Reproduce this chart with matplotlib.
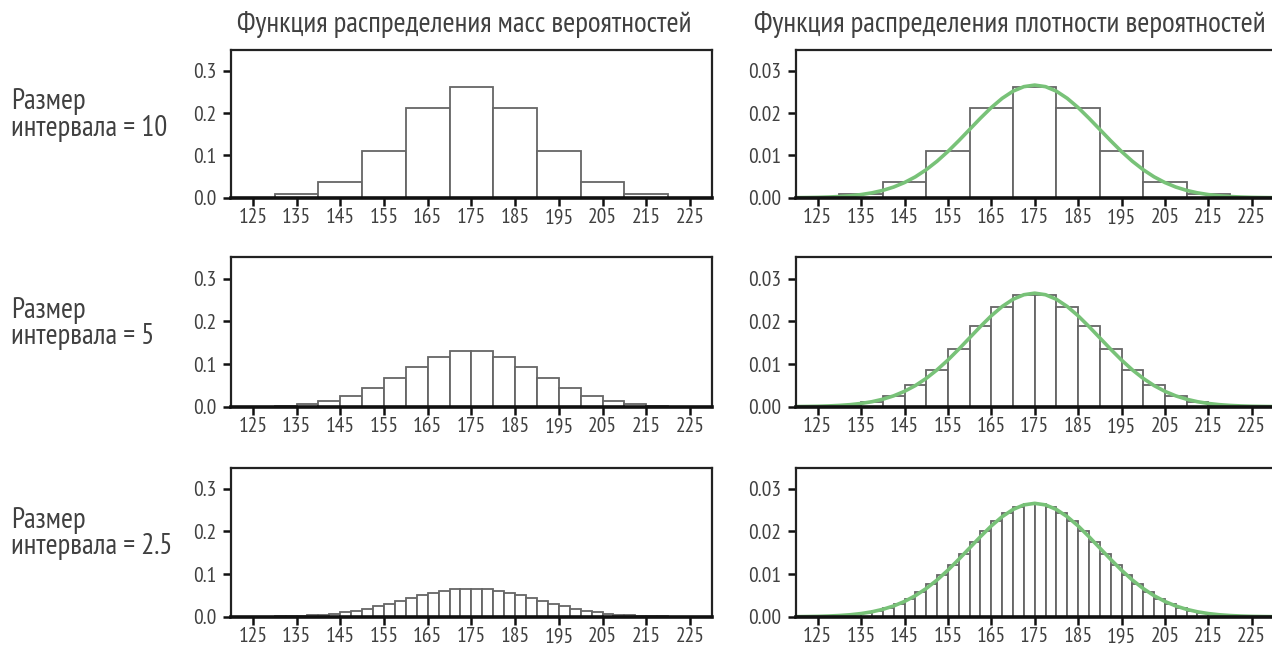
import matplotlib
matplotlib.use("Agg")
import matplotlib.pyplot as plt
from matplotlib import font_manager as fm
import numpy as np

# pick the narrowest available sans family
_names = {f.name for f in fm.fontManager.ttflist}
_cond = [f for f in fm.fontManager.ttflist
         if f.name == 'DejaVu Sans' and 'Condensed' in f.fname and 'Bold' not in f.fname
         and 'Oblique' not in f.fname]
if 'PT Sans Narrow' in _names:
    FAMILY, STRETCH, SCALE = 'PT Sans Narrow', 'normal', 1.25
elif 'Liberation Sans Narrow' in _names:
    FAMILY, STRETCH, SCALE = 'Liberation Sans Narrow', 'normal', 1.25
elif 'Roboto Condensed' in _names:
    FAMILY, STRETCH, SCALE = 'Roboto Condensed', 'normal', 1.2
elif _cond:
    FAMILY, STRETCH, SCALE = 'DejaVu Sans', 'condensed', 1.1
else:
    FAMILY, STRETCH, SCALE = 'Roboto', 'normal', 1.08
plt.rcParams['font.family'] = [FAMILY, 'DejaVu Sans']
plt.rcParams['font.stretch'] = STRETCH

# ---- data ----
row_labels = ["Размер\nинтервала = 10", "Размер\nинтервала = 5", "Размер\nинтервала = 2.5"]
titles = ["Функция распределения масс вероятностей", "Функция распределения плотности вероятностей"]
xticks = [125, 135, 145, 155, 165, 175, 185, 195, 205, 215, 225]

# bin width 10
edges10 = [130, 140, 150, 160, 170, 180, 190, 200, 210, 220]
pmf10 = [0.0085, 0.038, 0.111, 0.211, 0.261, 0.211, 0.111, 0.038, 0.0085]
pdf10 = [0.00085, 0.0038, 0.0111, 0.0211, 0.0261, 0.0211, 0.0111, 0.0038, 0.00085]

# bin width 5
edges5 = [130, 135, 140, 145, 150, 155, 160, 165, 170, 175, 180, 185, 190, 195,
          200, 205, 210, 215, 220]
pmf5 = [0.0025, 0.006, 0.013, 0.025, 0.0434, 0.0675, 0.0938, 0.117, 0.1306,
        0.1306, 0.117, 0.0938, 0.0675, 0.0434, 0.025, 0.013, 0.006, 0.0025]
pdf5 = [0.0005, 0.0012, 0.0026, 0.005, 0.0087, 0.0135, 0.0188, 0.0234, 0.0261,
        0.0261, 0.0234, 0.0188, 0.0135, 0.0087, 0.005, 0.0026, 0.0012, 0.0005]

# bin width 2.5
edges25 = [127.5, 130, 132.5, 135, 137.5, 140, 142.5, 145, 147.5, 150, 152.5, 155,
           157.5, 160, 162.5, 165, 167.5, 170, 172.5, 175, 177.5, 180, 182.5, 185,
           187.5, 190, 192.5, 195, 197.5, 200, 202.5, 205, 207.5, 210, 212.5, 215,
           217.5, 220]
pmf25 = [0.0005, 0.00095, 0.0015, 0.0024, 0.0036, 0.0053, 0.0076, 0.0106, 0.0144,
         0.019, 0.0244, 0.0304, 0.037, 0.0437, 0.0502, 0.0561, 0.061, 0.0645, 0.0663,
         0.0663, 0.0645, 0.061, 0.0561, 0.0502, 0.0437, 0.037, 0.0304, 0.0244, 0.019,
         0.0144, 0.0106, 0.0076, 0.0053, 0.0036, 0.0024, 0.0015, 0.00095]
pdf25 = [0.0002, 0.00038, 0.0006, 0.00095, 0.00143, 0.0021, 0.003, 0.0042, 0.0058,
         0.0076, 0.0098, 0.0122, 0.0148, 0.0175, 0.0201, 0.0224, 0.0244, 0.0258, 0.0265,
         0.0265, 0.0258, 0.0244, 0.0224, 0.0201, 0.0175, 0.0148, 0.0122, 0.0098, 0.0076,
         0.0058, 0.0042, 0.003, 0.0021, 0.00143, 0.00095, 0.0006, 0.00038]

# green density curve
curve_x = [120, 122.5, 125, 127.5, 130, 132.5, 135, 137.5, 140, 142.5, 145, 147.5,
           150, 152.5, 155, 157.5, 160, 162.5, 165, 167.5, 170, 172.5, 175, 177.5,
           180, 182.5, 185, 187.5, 190, 192.5, 195, 197.5, 200, 202.5, 205, 207.5,
           210, 212.5, 215, 217.5, 220, 222.5, 225, 227.5, 230]
curve_y = [0.00003, 0.00006, 0.0001, 0.00018, 0.0003, 0.00048, 0.00076, 0.00117,
           0.00175, 0.00254, 0.0036, 0.00495, 0.00663, 0.00863, 0.01093, 0.01347,
           0.01613, 0.01879, 0.0213, 0.02347, 0.02516, 0.02623, 0.0266, 0.02623,
           0.02516, 0.02347, 0.0213, 0.01879, 0.01613, 0.01347, 0.01093, 0.00863,
           0.00663, 0.00495, 0.0036, 0.00254, 0.00175, 0.00117, 0.00076, 0.00048,
           0.0003, 0.00018, 0.0001, 0.00006, 0.00003]

rows = [(edges10, pmf10, pdf10), (edges5, pmf5, pdf5), (edges25, pmf25, pdf25)]

W, H = 1272, 645
fig = plt.figure(figsize=(W / 100, H / 100), dpi=100)

def px_axes(x0, y0, x1, y1):
    return fig.add_axes([x0 / W, 1 - y1 / H, (x1 - x0) / W, (y1 - y0) / H])

row_tops = [49.5, 257.3, 467.5]
row_bots = [197.8, 406.7, 616.8]
left_x = (231, 711.8)
right_x = (796, 1273.4)

text_col = '#404040'
edge_col = '#666666'
green = '#78c278'
TICK_FS = 12.4 * SCALE
LABEL_FS = 16.6 * SCALE
TITLE_FS = 16.8 * SCALE

def style(ax, ylim, yticks, fmt):
    ax.set_xlim(120, 230)
    ax.set_ylim(*ylim)
    ax.set_xticks(xticks)
    ax.set_xticklabels([str(t) for t in xticks])
    ax.set_yticks(yticks)
    ax.set_yticklabels([fmt.format(t) for t in yticks])
    for s in ['top', 'left', 'right']:
        ax.spines[s].set_linewidth(1.6)
        ax.spines[s].set_color('#222222')
    ax.spines['bottom'].set_linewidth(2.6)
    ax.spines['bottom'].set_color('#111111')
    ax.tick_params(axis='both', direction='out', length=6, width=1.8,
                   color='#111111', labelcolor=text_col, labelsize=TICK_FS)
    ax.tick_params(axis='x', pad=1.5)
    ax.tick_params(axis='y', pad=4.5)

for i, (edges, pmf, pdf) in enumerate(rows):
    widths = np.diff(edges)
    lefts = np.array(edges[:-1])
    axl = px_axes(left_x[0], row_tops[i], left_x[1], row_bots[i])
    axl.bar(lefts, pmf, width=widths, align='edge', facecolor='white',
            edgecolor=edge_col, linewidth=1.3)
    style(axl, (0, 0.35), [0.0, 0.1, 0.2, 0.3], '{:.1f}')

    axr = px_axes(right_x[0], row_tops[i], right_x[1], row_bots[i])
    axr.bar(lefts, pdf, width=widths, align='edge', facecolor='white',
            edgecolor=edge_col, linewidth=1.3)
    axr.plot(curve_x, curve_y, color=green, linewidth=2.6, solid_capstyle='round')
    style(axr, (0, 0.035), [0.0, 0.01, 0.02, 0.03], '{:.2f}')

    cy = (row_tops[i] + row_bots[i]) / 2 - 8.5
    fig.text(11 / W, 1 - cy / H, row_labels[i], ha='left', va='center',
             fontsize=LABEL_FS, color=text_col, linespacing=0.98)

fig.text(464 / W, 1 - 25 / H, titles[0], ha='center', va='center',
         fontsize=TITLE_FS, color=text_col)
fig.text(1010 / W, 1 - 25 / H, titles[1], ha='center', va='center',
         fontsize=TITLE_FS, color=text_col)

fig.savefig('out.png', dpi=100, facecolor='white')
